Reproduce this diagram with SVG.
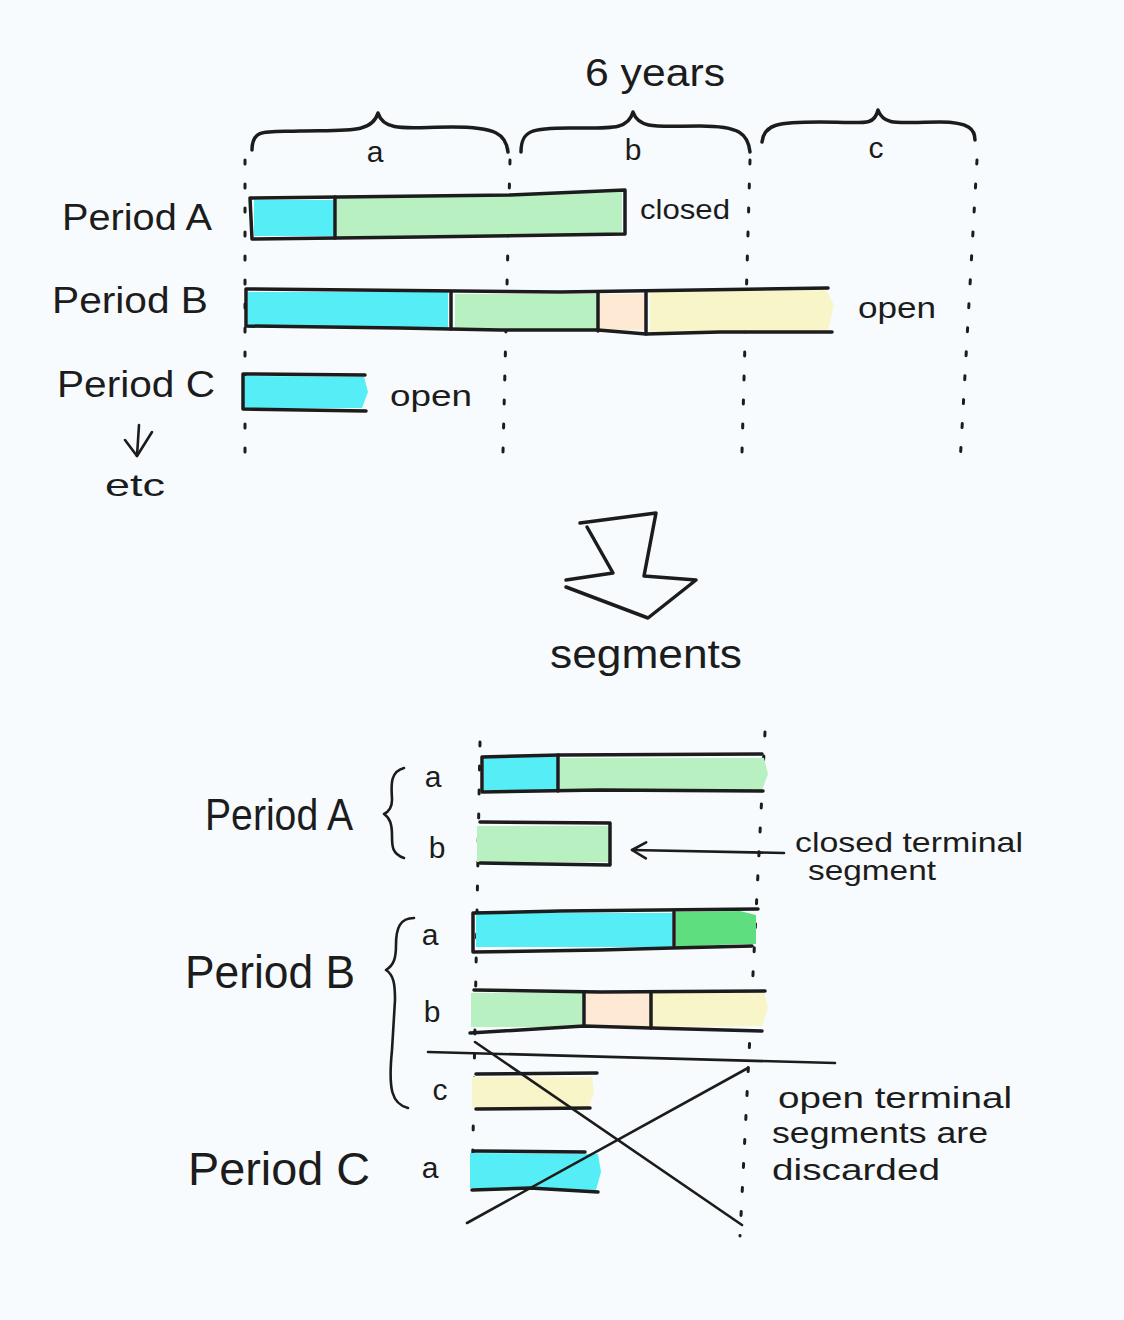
<svg xmlns="http://www.w3.org/2000/svg" width="1124" height="1320" viewBox="0 0 1124 1320">
<defs>
<style>
.ink{fill:none;stroke:#1c1c1c;stroke-width:3.5;stroke-linecap:round;stroke-linejoin:round}
.thin{fill:none;stroke:#1c1c1c;stroke-width:2.6;stroke-linecap:round;stroke-linejoin:round}
.dot{fill:none;stroke:#1c1c1c;stroke-width:3;stroke-linecap:round;stroke-dasharray:4 20}
.t{font-family:"Liberation Sans","DejaVu Sans",sans-serif;fill:#1c1c1c}
.cy{fill:#55eef6}
.gr{fill:#b8f0c2}
.dg{fill:#5ede7e}
.pe{fill:#fde9d4}
.ye{fill:#f8f5c8}
</style>
<marker id="ah" viewBox="0 0 20 20" refX="17" refY="10" markerWidth="20" markerHeight="20" markerUnits="userSpaceOnUse" orient="auto">
<path d="M3,2 L17,10 L3,18" fill="none" stroke="#1c1c1c" stroke-width="2.6" stroke-linecap="round" stroke-linejoin="round"/>
</marker>
</defs>
<rect width="1124" height="1320" fill="#f7fbfd"/>

<!-- top header -->
<g id="title"><text class="t" x="655" y="86" font-size="38" text-anchor="middle" textLength="140" lengthAdjust="spacingAndGlyphs">6 years</text></g>
<g id="braces-top">
<path class="ink" d="M252,150 C252,128 266,132 300,131 C350,130 372,133 378,113 C384,133 410,127 452,127 C496,127 506,134 508,152"/>
<path class="ink" d="M521,152 C521,130 532,128 570,128 C612,128 628,130 633,112 C639,130 660,126 700,126 C740,126 748,134 750,152"/>
<path class="ink" d="M762,142 C764,124 778,122 820,122 C864,122 874,127 878,110 C884,127 900,122 940,122 C970,122 975,130 975,140"/>
<text class="t" x="375" y="162" font-size="30" text-anchor="middle">a</text>
<text class="t" x="633" y="160" font-size="30" text-anchor="middle">b</text>
<text class="t" x="876" y="158" font-size="30" text-anchor="middle">c</text>
</g>

<!-- dotted guides top -->
<g id="guides-top">
<line class="dot" x1="245" y1="160" x2="245" y2="452"/>
<line class="dot" x1="510" y1="160" x2="503" y2="452"/>
<line class="dot" x1="750" y1="160" x2="742" y2="452"/>
<line class="dot" x1="977" y1="160" x2="960" y2="464"/>
</g>

<!-- Period A -->
<g id="periodA">
<text class="t" x="62" y="230" font-size="36" textLength="150" lengthAdjust="spacingAndGlyphs">Period A</text>
<rect class="cy" x="254" y="200" width="80" height="36"/>
<path class="gr" d="M337,198 L622,192 L622,235 L337,237 Z"/>
<path class="ink" d="M250,198 L510,195 L625,190 L625,234 L420,237 L252,239 Z"/>
<line class="ink" x1="335" y1="197" x2="335" y2="238"/>
<text class="t" x="640" y="219" font-size="28" textLength="90" lengthAdjust="spacingAndGlyphs">closed</text>
</g>

<!-- Period B -->
<g id="periodB">
<text class="t" x="52" y="313" font-size="36" textLength="156" lengthAdjust="spacingAndGlyphs">Period B</text>
<rect class="cy" x="248" y="292" width="200" height="36"/>
<rect class="gr" x="455" y="294" width="143" height="35"/>
<rect class="pe" x="600" y="294" width="46" height="36"/>
<path class="ye" d="M650,292 L826,290 L834,305 L828,330 L650,332 Z"/>
<path class="ink" d="M828,288 L560,292 L246,289 L246,326 L400,328 L500,330 L598,330 L646,334 L720,332 L832,332"/>
<line class="ink" x1="451" y1="292" x2="451" y2="329"/>
<line class="ink" x1="598" y1="292" x2="598" y2="331"/>
<line class="ink" x1="646" y1="292" x2="646" y2="334"/>
<text class="t" x="858" y="318" font-size="30" textLength="78" lengthAdjust="spacingAndGlyphs">open</text>
</g>

<!-- Period C -->
<g id="periodC">
<text class="t" x="57" y="397" font-size="36" textLength="158" lengthAdjust="spacingAndGlyphs">Period C</text>
<path class="cy" d="M244,376 L364,377 L368,392 L362,408 L244,408 Z"/>
<path class="ink" d="M365,375 L243,374 L243,409 L366,411"/>
<text class="t" x="390" y="406" font-size="30" textLength="82" lengthAdjust="spacingAndGlyphs">open</text>
</g>

<g id="etc">
<line class="thin" x1="139" y1="425" x2="137" y2="456"/>
<path class="thin" d="M125,440 L137,456 L152,432"/>
<text class="t" x="105" y="496" font-size="32" textLength="60" lengthAdjust="spacingAndGlyphs">etc</text>
</g>

<!-- big arrow -->
<g id="bigarrow">
<path class="ink" d="M580,523 L656,513 L644,576 L696,580 L648,618 L566,587 M566,580 L613,573 L587,527"/>
<text class="t" x="646" y="668" font-size="40" text-anchor="middle" textLength="192" lengthAdjust="spacingAndGlyphs">segments</text>
</g>

<!-- dotted guides bottom -->
<g id="guides-bottom">
<line class="dot" x1="480" y1="742" x2="472" y2="1196"/>
<line class="dot" x1="765" y1="732" x2="740" y2="1236"/>
</g>

<!-- Bottom Period A -->
<g id="segA">
<text class="t" x="205" y="830" font-size="44" textLength="148" lengthAdjust="spacingAndGlyphs">Period A</text>
<path class="thin" d="M404,768 C388,772 392,790 392,800 C392,808 388,812 384,814 C390,818 392,824 392,836 C392,846 392,854 404,858"/>
<text class="t" x="433" y="787" font-size="30" text-anchor="middle">a</text>
<text class="t" x="437" y="858" font-size="30" text-anchor="middle">b</text>
<rect class="cy" x="484" y="757" width="73" height="33"/>
<path class="gr" d="M560,758 L764,758 L768,774 L762,790 L560,790 Z"/>
<path class="ink" d="M762,754 L560,755 L482,757 L482,792 L600,790 L763,791"/>
<line class="ink" x1="558" y1="755" x2="558" y2="791"/>
<rect class="gr" x="477" y="826" width="132" height="36"/>
<path class="ink" d="M480,822 L610,823 L610,865 L480,863"/>
<line class="thin" x1="784" y1="853" x2="632" y2="850" marker-end="url(#ah)"/>
<text class="t" x="795" y="852" font-size="28" textLength="228" lengthAdjust="spacingAndGlyphs">closed terminal</text>
<text class="t" x="808" y="880" font-size="28" textLength="128" lengthAdjust="spacingAndGlyphs">segment</text>
</g>

<!-- Bottom Period B -->
<g id="segB">
<text class="t" x="185" y="988" font-size="46" textLength="170" lengthAdjust="spacingAndGlyphs">Period B</text>
<path class="thin" d="M414,918 C400,918 396,928 396,945 C396,958 394,965 386,970 C394,975 395,985 395,1000 L392,1050 C388,1090 392,1104 408,1108"/>
<text class="t" x="430" y="945" font-size="30" text-anchor="middle">a</text>
<text class="t" x="432" y="1022" font-size="30" text-anchor="middle">b</text>
<text class="t" x="440" y="1100" font-size="30" text-anchor="middle">c</text>
<rect class="cy" x="476" y="913" width="196" height="34"/>
<path class="dg" d="M676,912 L740,911 L756,915 L756,944 L740,944 L676,947 Z"/>
<path class="ink" d="M758,909 L560,911 L473,913 L473,952 L600,950 L672,948 L752,946"/>
<line class="ink" x1="674" y1="912" x2="674" y2="946"/>
<rect class="gr" x="471" y="993" width="112" height="34"/>
<rect class="pe" x="586" y="993" width="64" height="33"/>
<path class="ye" d="M653,993 L764,992 L768,1008 L762,1026 L653,1027 Z"/>
<path class="ink" d="M474,990 L600,992 L765,991 M470,1033 L584,1026 L650,1028 L762,1031"/>
<line class="ink" x1="584" y1="993" x2="584" y2="1026"/>
<line class="ink" x1="651" y1="993" x2="651" y2="1028"/>
<path class="ye" d="M472,1077 L592,1077 L594,1094 L588,1108 L472,1108 Z"/>
<path class="ink" d="M476,1074 L597,1073 M476,1109 L590,1108"/>
</g>

<!-- Bottom Period C -->
<g id="segC">
<text class="t" x="188" y="1185" font-size="46" textLength="182" lengthAdjust="spacingAndGlyphs">Period C</text>
<text class="t" x="430" y="1178" font-size="30" text-anchor="middle">a</text>
<path class="cy" d="M470,1153 L598,1154 L601,1172 L596,1190 L470,1188 Z"/>
<path class="ink" d="M474,1151 L585,1152 M472,1190 L530,1188 L598,1192"/>
</g>

<!-- discard cross and line -->
<g id="discard">
<line class="thin" x1="428" y1="1052" x2="835" y2="1063"/>
<line class="thin" x1="475" y1="1042" x2="742" y2="1225"/>
<line class="thin" x1="467" y1="1223" x2="748" y2="1068"/>
<text class="t" x="778" y="1108" font-size="30" textLength="234" lengthAdjust="spacingAndGlyphs">open terminal</text>
<text class="t" x="772" y="1143" font-size="30" textLength="216" lengthAdjust="spacingAndGlyphs">segments are</text>
<text class="t" x="772" y="1180" font-size="30" textLength="168" lengthAdjust="spacingAndGlyphs">discarded</text>
</g>
</svg>
